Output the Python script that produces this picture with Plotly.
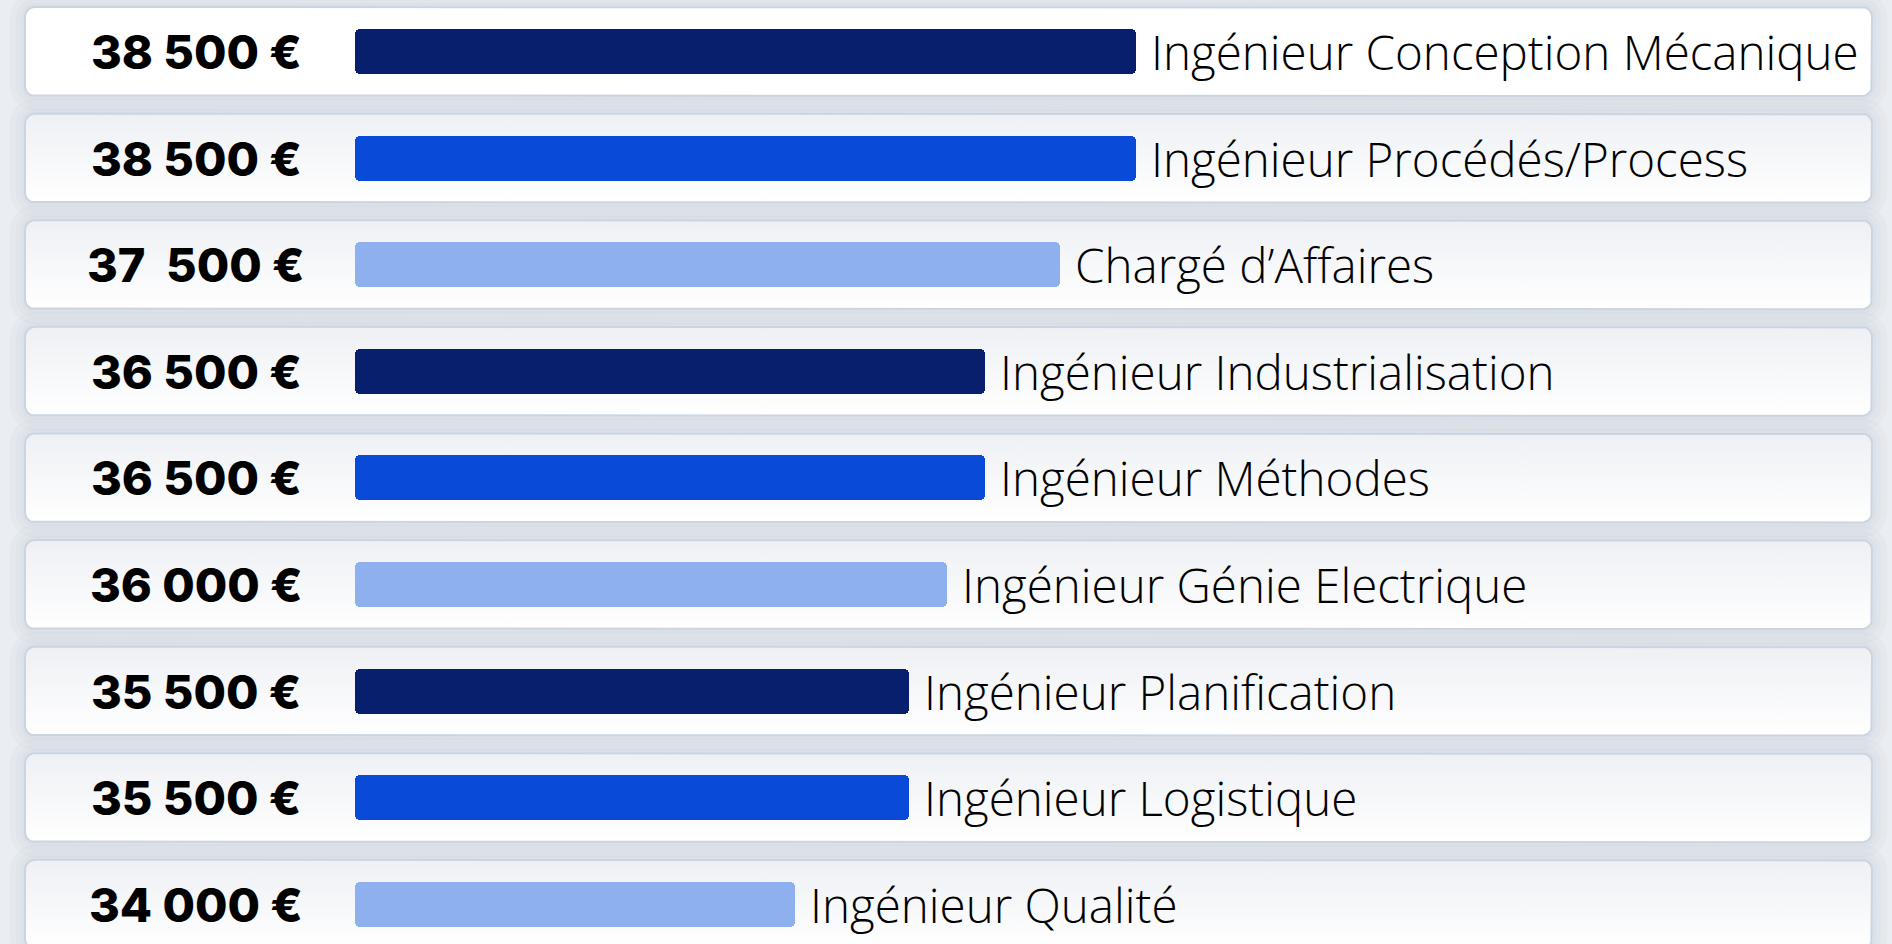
import numpy as np
import plotly.graph_objects as go

# --- data -------------------------------------------------------------
jobs = [
    "Ingénieur Conception Mécanique",
    "Ingénieur Procédés/Process",
    "Chargé d’Affaires",
    "Ingénieur Industrialisation",
    "Ingénieur Méthodes",
    "Ingénieur Génie Electrique",
    "Ingénieur Planification",
    "Ingénieur Logistique",
    "Ingénieur Qualité",
]
salaries = [38500, 38500, 37500, 36500, 36500, 36000, 35500, 35500, 34000]
salary_labels = [
    "38 500 €", "38 500 €", "37 \u00a0500 €", "36 500 €", "36 500 €",
    "36 000 €", "35 500 €", "35 500 €", "34 000 €",
]

# --- style ------------------------------------------------------------
palette = ["#081f6e", "#0a4ad8", "#8eb0ef"]
bar_colors = [palette[i % 3] for i in range(len(jobs))]
card_top_colors = ["#ffffff"] + ["#eef0f4"] * (len(jobs) - 1)
BG = "#eaedf1"
CARD_LINE = "#cbd5e2"

# --- layout geometry (pixels) ------------------------------------------
W, H = 1892, 944
ROW_PX = 106.6          # vertical pitch between rows
ROW0_PX = 51.5          # centre of the first row
CARD_HALF_PX = 44.5
CARD_X0_PX, CARD_X1_PX = 25, 1872
CARD_R_PX = 10
BAR_PX = 45
BAR_R_PX = 5
PX_PER_EUR = 0.07591
BAR_BASE = 28200        # salary value where the bars start
BAR_BASE_PX = 354.5
VALUE_X_PX = 196
OVERLAP_PX = 14

x_range = [BAR_BASE - BAR_BASE_PX / PX_PER_EUR, BAR_BASE + (W - BAR_BASE_PX) / PX_PER_EUR]
y_range = [(H - ROW0_PX) / ROW_PX, -ROW0_PX / ROW_PX]
rows = np.arange(len(jobs))


def px_to_x(px):
    return x_range[0] + px / PX_PER_EUR


def rounded_rect(x0_px, x1_px, yc, half_px, r_px, n=10):
    """Closed outline of a rounded rectangle in data coordinates."""
    top, bot = -half_px, half_px
    centres = [
        (x0_px + r_px, top + r_px, 180, 270),
        (x1_px - r_px, top + r_px, 270, 360),
        (x1_px - r_px, bot - r_px, 0, 90),
        (x0_px + r_px, bot - r_px, 90, 180),
    ]
    xs, ys = [], []
    for cx, cy, a0, a1 in centres:
        t = np.radians(np.linspace(a0, a1, n))
        xs.extend(cx + r_px * np.cos(t))
        ys.extend(cy + r_px * np.sin(t))
    xs.append(xs[0])
    ys.append(ys[0])
    return [px_to_x(v) for v in xs], [yc + v / ROW_PX for v in ys]


fig = go.Figure()

# soft shadows behind the cards (base axes)
for grow, alpha in [(15, 0.035), (9, 0.035), (4, 0.04)]:
    for i in rows:
        xs, ys = rounded_rect(CARD_X0_PX - grow, CARD_X1_PX + grow, i,
                              CARD_HALF_PX + grow, CARD_R_PX + grow)
        fig.add_trace(go.Scatter(
            x=xs, y=ys, mode="lines", fill="toself",
            fillcolor=f"rgba(110,130,165,{alpha})",
            line=dict(width=0), hoverinfo="skip", showlegend=False,
        ))

# cards (base axes)
for i in rows:
    xs, ys = rounded_rect(CARD_X0_PX, CARD_X1_PX, i, CARD_HALF_PX, CARD_R_PX)
    fig.add_trace(go.Scatter(
        x=xs, y=ys, mode="lines", fill="toself",
        fillgradient=dict(
            type="vertical",
            colorscale=[[0, card_top_colors[i]], [1, "#ffffff"]],
            start=i - CARD_HALF_PX / ROW_PX,
            stop=i + CARD_HALF_PX / ROW_PX,
        ),
        line=dict(color=CARD_LINE, width=2),
        hoverinfo="skip", showlegend=False,
    ))

# bars on an overlaying pair of axes so they sit above the cards;
# each bar is drawn as two overlapping halves so both outer ends are rounded
mids = [(BAR_BASE + v) / 2 for v in salaries]
overlap = OVERLAP_PX / PX_PER_EUR
bar_width = BAR_PX / ROW_PX
fig.add_trace(go.Bar(
    y=rows, x=[BAR_BASE - (m + overlap / 2) for m in mids],
    base=[m + overlap / 2 for m in mids],
    orientation="h", width=bar_width, xaxis="x2", yaxis="y2",
    marker=dict(color=bar_colors, line=dict(width=0), cornerradius=BAR_R_PX),
    hoverinfo="skip", showlegend=False,
))
fig.add_trace(go.Bar(
    y=rows, x=[v - (m - overlap / 2) for v, m in zip(salaries, mids)],
    base=[m - overlap / 2 for m in mids],
    orientation="h", width=bar_width, xaxis="x2", yaxis="y2",
    marker=dict(color=bar_colors, line=dict(width=0), cornerradius=BAR_R_PX),
    hovertext=[f"{j}: {s}" for j, s in zip(jobs, salary_labels)],
    hoverinfo="text", showlegend=False,
))

annotations = []
for i, (job, sal, lab) in enumerate(zip(jobs, salaries, salary_labels)):
    annotations.append(dict(
        x=VALUE_X_PX / W, xref="paper", y=i, yref="y2",
        text=lab, showarrow=False, xanchor="center", yanchor="middle",
        font=dict(family="Inter", size=47, color="#000000", weight=800),
    ))
    annotations.append(dict(
        x=sal, xref="x2", y=i, yref="y2", xshift=13,
        text=job, showarrow=False, xanchor="left", yanchor="middle",
        font=dict(family="Open Sans", size=47.5, color="#000000", weight=300),
    ))

axis_common = dict(visible=False, fixedrange=True)
fig.update_layout(
    width=W, height=H,
    margin=dict(l=0, r=0, t=0, b=0, pad=0),
    paper_bgcolor=BG, plot_bgcolor=BG,
    barmode="overlay", bargap=0, bargroupgap=0,
    xaxis=dict(range=x_range, **axis_common),
    yaxis=dict(range=y_range, **axis_common),
    xaxis2=dict(range=x_range, overlaying="x", anchor="y2", **axis_common),
    yaxis2=dict(range=y_range, overlaying="y", anchor="x2", **axis_common),
    annotations=annotations,
    showlegend=False,
)

fig.write_html("out.html", config={"displayModeBar": False})
